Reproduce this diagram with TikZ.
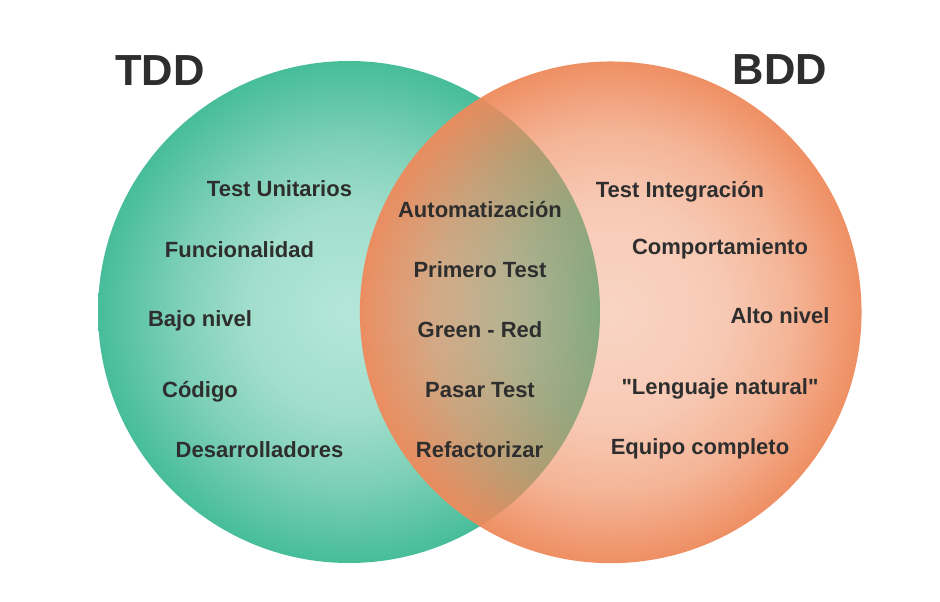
\documentclass[tikz,border=0pt]{standalone}
\usepackage{fontspec}
% straight double quotes are kept as typed
\setmainfont{Liberation Sans}[Ligatures=TeXOff]
\usetikzlibrary{fadings}

\definecolor{mintin}{HTML}{B4E7DA}
\definecolor{mintA}{HTML}{A2DECC}
\definecolor{mintB}{HTML}{7ED0B7}
\definecolor{mintout}{HTML}{47BD99}
\definecolor{peach}{HTML}{EE8A5C}
\definecolor{ink}{HTML}{2E2E2E}

% green set: pale core, deeper rim
\pgfdeclareradialshading{mintball}{\pgfpoint{0bp}{0bp}}{%
  color(0bp)=(mintin); color(10bp)=(mintA); color(17bp)=(mintB);
  color(25bp)=(mintout); color(50bp)=(mintout)}

% orange set: see-through in the middle, nearly solid at the rim
\pgfdeclareradialshading{peachmask}{\pgfpoint{0bp}{0bp}}{%
  color(0bp)=(black!64); color(11bp)=(black!54); color(18bp)=(black!36);
  color(25bp)=(black!4); color(50bp)=(black!4)}
\pgfdeclarefading{peachfade}{\pgfuseshading{peachmask}}

\tikzset{
  item/.style={text=ink, font=\fontsize{22}{24}\selectfont\bfseries, anchor=base, inner sep=0pt},
  title/.style={text=ink, font=\fontsize{43.5}{48}\selectfont\bfseries, anchor=base, inner sep=0pt}
}

\begin{document}
\begin{tikzpicture}[x=1pt,y=-1pt]
\useasboundingbox (0,0) rectangle (940,602);

% the two sets
\shade[shading=mintball] (349,312) circle (251);
\fill[peach, path fading=peachfade, fit fading=true] (611,312) circle (251);

% headings
\node[title] (tdd) at (160,85) {TDD};
\node[title] (bdd) at (780,84.5) {BDD};

% TDD only
\node[item] (tu) at (279.5,196.5) {Test Unitarios};
\node[item] (fu) at (239.5,257) {Funcionalidad};
\node[item] (bn) at (200,326) {Bajo nivel};
\node[item] (co) at (200,397) {Código};
\node[item] (de) at (259.5,457) {Desarrolladores};

% shared
\node[item] (au) at (480,217.5) {Automatización};
\node[item] (pt) at (480,277) {Primero Test};
\node[item] (gr) at (480,337) {Green - Red};
\node[item] (pa) at (480,397) {Pasar Test};
\node[item] (re) at (479.5,457) {Refactorizar};

% BDD only
\node[item] (ti) at (680,197) {Test Integración};
\node[item] (cp) at (720,254) {Comportamiento};
\node[item] (an) at (780,323) {Alto nivel};
\node[item] (ln) at (720,394) {"Lenguaje natural"};
\node[item] (eq) at (700,454) {Equipo completo};
\end{tikzpicture}
\end{document}
